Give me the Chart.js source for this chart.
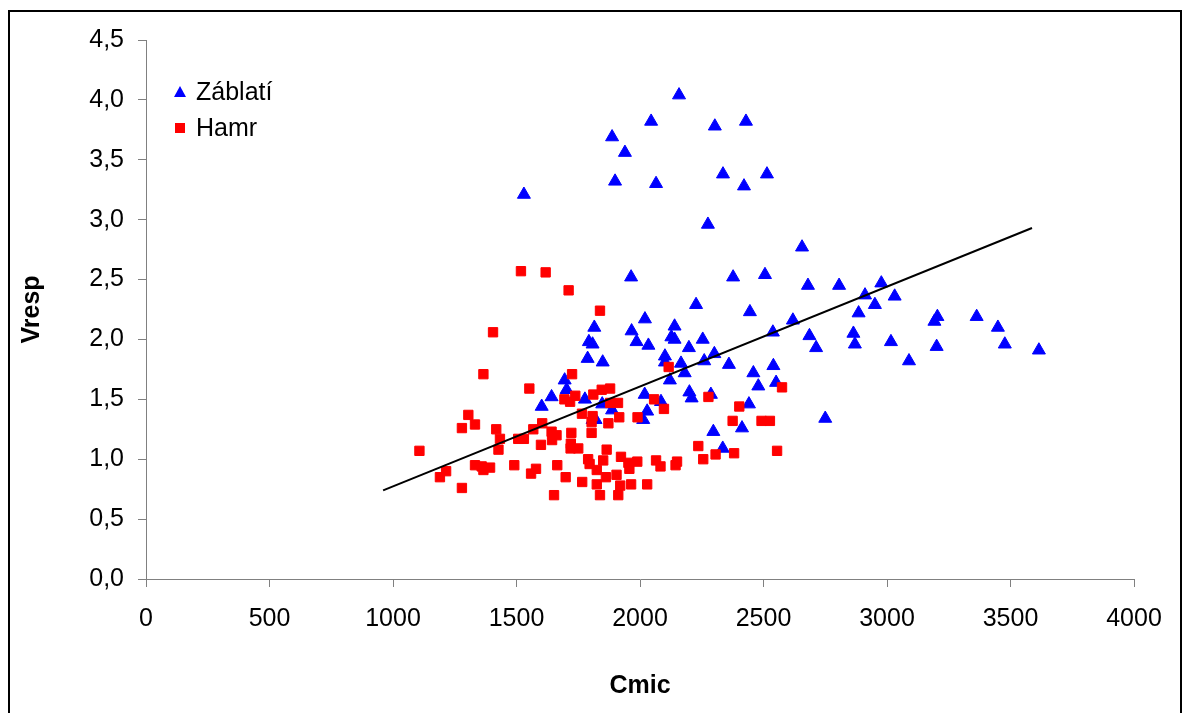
<!DOCTYPE html>
<html>
<head>
<meta charset="utf-8">
<script src="https://cdn.jsdelivr.net/npm/chart.js@4/dist/chart.umd.min.js"></script>
<style>
  html, body { margin: 0; padding: 0; background: #fff; overflow: hidden; }
  #wrap { position: relative; width: 1190px; height: 713px; }
  #frame { position: absolute; left: 8px; top: 10px; width: 1174px; height: 720px; border: 2px solid #000; box-sizing: border-box; }
  canvas { position: absolute; left: 0; top: 0; }
</style>
</head>
<body>
<div id="wrap">
  <div id="frame"></div>
  <canvas id="chart-scatter" width="1190" height="713"></canvas>
</div>
<script>
// Záblatí (triangles)
const zablatiX = [1530, 1887, 1939, 1899, 2045, 2158, 2065, 2303, 2429, 2336, 2421, 2514, 2275, 1964, 2656,
    2377, 2506, 2680, 2806, 2227, 2445, 2619, 2686, 2713, 2538, 2020, 1966, 1986, 2034, 2140,
    2127, 2140, 2198, 2254, 2101, 2101, 2166, 2260, 2301, 2360, 2459, 2540, 1849, 2181, 1815,
    1793, 1808, 1788, 1695, 1642, 1602, 1703, 1777, 1847, 1887, 1820, 2121, 2019, 2200, 2209,
    2287, 2085, 2029, 2013, 1808, 2297, 2479, 2551, 2441, 2413, 2335, 2750, 2977, 2911, 3031,
    2951, 2885, 3204, 3192, 3363, 3449, 2864, 2870, 3016, 3201, 3477, 3615, 3089];
const zablatiY = [3.21, 3.69, 3.56, 3.32, 3.82, 4.04, 3.30, 3.78, 3.82, 3.38, 3.28, 3.38, 2.96, 2.52, 2.77,
    2.52, 2.54, 2.45, 2.45, 2.29, 2.23, 2.16, 2.03, 1.93, 2.06, 2.17, 2.07, 1.98, 1.95, 2.11,
    2.02, 2.00, 1.93, 2.00, 1.86, 1.81, 1.80, 1.82, 1.88, 1.79, 1.72, 1.78, 1.81, 1.72, 2.10,
    1.98, 1.96, 1.84, 1.66, 1.52, 1.44, 1.58, 1.50, 1.46, 1.41, 1.33, 1.66, 1.54, 1.56, 1.51,
    1.54, 1.48, 1.40, 1.33, 1.33, 1.23, 1.61, 1.64, 1.46, 1.26, 1.09, 1.34, 2.47, 2.37, 2.36,
    2.29, 2.22, 2.19, 2.15, 2.19, 2.10, 2.05, 1.96, 1.98, 1.94, 1.96, 1.91, 1.82];

// Hamr (squares)
const hamrX = [1518, 1618, 1711, 1838, 1405, 1366, 1552, 1725, 1694, 1717, 1738, 1811, 1845, 1879, 1879,
    1911, 1765, 1808, 1804, 1872, 1305, 1332, 1279, 1418, 1433, 1568, 1604, 1642, 1662, 1722,
    1507, 1530, 1644, 1599, 1720, 1750, 1804, 1719, 1427, 1865, 1107, 1215, 1190, 1279, 1332,
    1359, 1366, 1393, 1491, 1579, 1559, 1665, 1790, 1796, 1851, 1825, 1862, 1699, 1766, 1825,
    1652, 1838, 1905, 1912, 1920, 1916, 1990, 1923, 1953, 1989, 1957, 1964, 2029, 2065, 2083,
    2144, 2150, 2236, 2256, 2306, 2116, 2277, 2575, 2057, 2097, 2402, 2375, 2492, 2526, 2381, 2555];
const hamrY = [2.57, 2.56, 2.41, 2.24, 2.06, 1.71, 1.59, 1.71, 1.50, 1.48, 1.53, 1.54, 1.58, 1.59, 1.47,
    1.47, 1.38, 1.36, 1.31, 1.30, 1.37, 1.29, 1.26, 1.25, 1.17, 1.25, 1.30, 1.23, 1.20, 1.22,
    1.17, 1.17, 1.16, 1.12, 1.13, 1.09, 1.22, 1.09, 1.08, 1.08, 1.07, 0.90, 0.85, 0.76, 0.95,
    0.94, 0.91, 0.93, 0.95, 0.92, 0.88, 0.95, 1.00, 0.96, 0.99, 0.91, 0.85, 0.85, 0.81, 0.79,
    0.70, 0.70, 0.87, 0.70, 0.78, 1.35, 1.35, 1.02, 0.97, 0.98, 0.92, 0.79, 0.79, 0.99, 0.94,
    0.95, 0.98, 1.11, 1.00, 1.04, 1.77, 1.52, 1.60, 1.50, 1.42, 1.44, 1.32, 1.32, 1.32, 1.05, 1.07];

// linear trend (all points)
const trendX = [960, 3587];
const trendY = [0.74, 2.93];

const xTicks = [0, 500, 1000, 1500, 2000, 2500, 3000, 3500, 4000];
const yTicks = [0, 0.5, 1, 1.5, 2, 2.5, 3, 3.5, 4, 4.5];

const toPoints = (xs, ys) => xs.map((x, i) => ({ x: x, y: ys[i] }));

// legend drawn inside the plot, top left
const insideLegend = {
    id: 'insideLegend',
    afterDraw(chart) {
        const ctx = chart.ctx;
        const items = chart.data.datasets.filter(d => d.showInLegend);
        ctx.save();
        ctx.font = '25px "Liberation Sans", Arial, sans-serif';
        ctx.textBaseline = 'middle';
        items.forEach((d, i) => {
            const cx = 180, cy = 92 + i * 36;
            ctx.fillStyle = d.backgroundColor;
            ctx.beginPath();
            if (d.pointStyle === 'triangle') {
                ctx.moveTo(cx, cy - 6);
                ctx.lineTo(cx + 6, cy + 5);
                ctx.lineTo(cx - 6, cy + 5);
                ctx.closePath();
            } else {
                ctx.rect(cx - 5, cy - 5, 10, 10);
            }
            ctx.fill();
            ctx.fillStyle = '#000';
            ctx.fillText(d.label, 196, cy + 1);
        });
        ctx.restore();
    }
};

new Chart(document.getElementById('chart-scatter').getContext('2d'), {
    type: 'scatter',
    data: {
        datasets: [
            {
                label: 'Záblatí',
                data: toPoints(zablatiX, zablatiY),
                pointStyle: 'triangle',
                backgroundColor: '#0000ff',
                borderColor: '#0000ff',
                borderWidth: 1,
                pointRadius: 7.5,
                showInLegend: true,
                order: 2
            },
            {
                label: 'Hamr',
                data: toPoints(hamrX, hamrY),
                pointStyle: 'rect',
                backgroundColor: '#ff0000',
                borderColor: '#ff0000',
                borderWidth: 1,
                pointRadius: 6.6,
                showInLegend: true,
                order: 1
            },
            {
                type: 'line',
                label: 'trend',
                data: toPoints(trendX, trendY),
                borderColor: '#000',
                borderWidth: 2,
                pointRadius: 0,
                fill: false,
                order: 0
            }
        ]
    },
    options: {
        responsive: false,
        animation: false,
        layout: { padding: { left: 0, top: 40, right: 56, bottom: 0 } },
        plugins: {
            legend: { display: false },
            tooltip: { enabled: false }
        },
        scales: {
            x: {
                type: 'linear',
                min: 0, max: 4000,
                afterBuildTicks: s => { s.ticks = xTicks.map(v => ({ value: v })); },
                afterFit: s => { s.height = 134; },
                grid: { display: true, drawOnChartArea: false, drawTicks: true, tickLength: 8, color: '#808080' },
                border: { display: true, color: '#808080', width: 1 },
                ticks: { color: '#000', padding: 17, maxRotation: 0, font: { family: '"Liberation Sans", Arial, sans-serif', size: 25 },
                    callback: v => String(v) },
                title: { display: true, text: 'Cmic', color: '#000', padding: { top: 14, bottom: 12 }, font: { family: '"Liberation Sans", Arial, sans-serif', size: 25, weight: 'bold' } }
            },
            y: {
                type: 'linear',
                min: 0, max: 4.5,
                afterBuildTicks: s => { s.ticks = yTicks.map(v => ({ value: v })); },
                afterFit: s => { s.width = 146; },
                grid: { display: true, drawOnChartArea: false, drawTicks: true, tickLength: 8, color: '#808080' },
                border: { display: true, color: '#808080', width: 1 },
                ticks: { color: '#000', padding: 14, font: { family: '"Liberation Sans", Arial, sans-serif', size: 25 },
                    callback: v => v.toFixed(1).replace('.', ',') },
                title: { display: true, text: 'Vresp', color: '#000', padding: { top: 17, bottom: 0 }, font: { family: '"Liberation Sans", Arial, sans-serif', size: 25, weight: 'bold' } }
            }
        }
    },
    plugins: [insideLegend]
});
</script>
</body>
</html>
